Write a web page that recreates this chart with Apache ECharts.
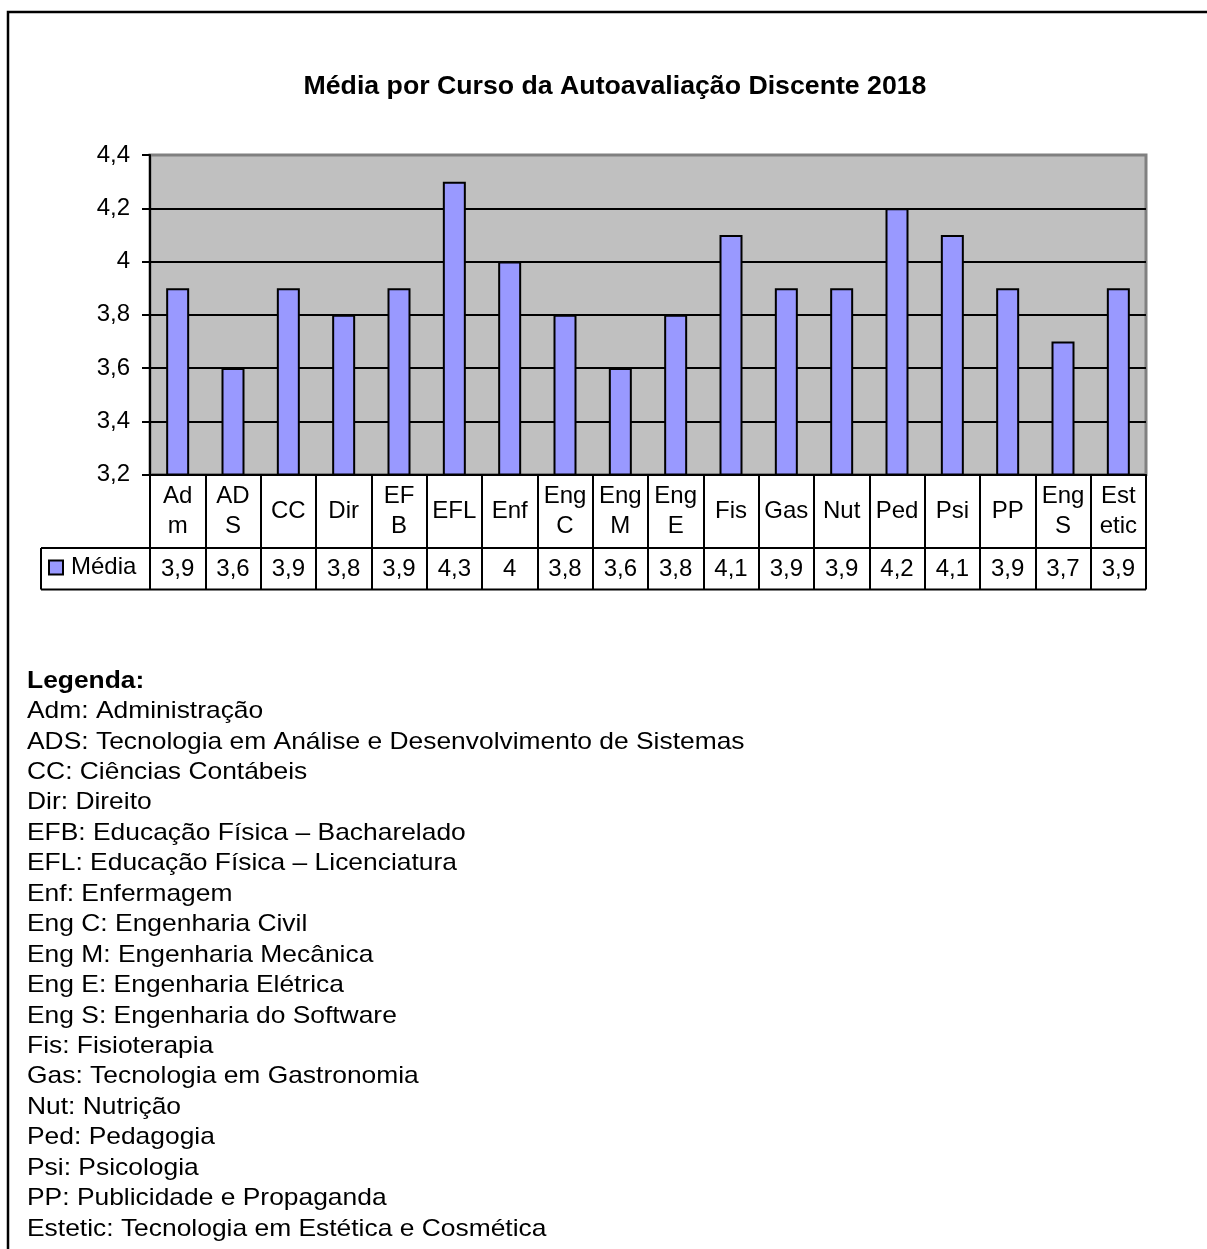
<!DOCTYPE html>
<html>
<head>
<meta charset="utf-8">
<script src="https://cdn.jsdelivr.net/npm/echarts@6/dist/echarts.min.js"></script>
<style>
  html, body { margin: 0; padding: 0; background: #ffffff; }
  #chart { width: 1207px; height: 1249px; }
</style>
</head>
<body>
<div id="chart"></div>
<script>
// Course abbreviations and their average self-evaluation score
const categories = ['Adm', 'ADS', 'CC', 'Dir', 'EFB', 'EFL', 'Enf', 'Eng C', 'Eng M', 'Eng E',
  'Fis', 'Gas', 'Nut', 'Ped', 'Psi', 'PP', 'Eng S', 'Estetic'];
const categoryLabels = ['Ad\nm', 'AD\nS', 'CC', 'Dir', 'EF\nB', 'EFL', 'Enf', 'Eng\nC', 'Eng\nM', 'Eng\nE',
  'Fis', 'Gas', 'Nut', 'Ped', 'Psi', 'PP', 'Eng\nS', 'Est\netic'];
const media = [3.9, 3.6, 3.9, 3.8, 3.9, 4.3, 4.0, 3.8, 3.6, 3.8, 4.1, 3.9, 3.9, 4.2, 4.1, 3.9, 3.7, 3.9];
const seriesName = 'Média';
const yMin = 3.2, yMax = 4.4, yStep = 0.2;

const titleText = 'Média por Curso da Autoavaliação Discente 2018';
const legendHeading = 'Legenda:';
const legendLines = [
  'Adm: Administração',
  'ADS: Tecnologia em Análise e Desenvolvimento de Sistemas',
  'CC: Ciências Contábeis',
  'Dir: Direito',
  'EFB: Educação Física – Bacharelado',
  'EFL: Educação Física – Licenciatura',
  'Enf: Enfermagem',
  'Eng C: Engenharia Civil',
  'Eng M: Engenharia Mecânica',
  'Eng E: Engenharia Elétrica',
  'Eng S: Engenharia do Software',
  'Fis: Fisioterapia',
  'Gas: Tecnologia em Gastronomia',
  'Nut: Nutrição',
  'Ped: Pedagogia',
  'Psi: Psicologia',
  'PP: Publicidade e Propaganda',
  'Estetic: Tecnologia em Estética e Cosmética'
];

const FONT = '"Liberation Sans", Arial, sans-serif';
const fmt = v => String(Math.round(v * 10) / 10).replace('.', ',');

// plot / table layout
const plotLeft = 150, plotRight = 1146, plotTop = 155, plotBottom = 474.5;
const rowSplit = 548, tableBottom = 589.5, tableLeft = 41;

const chart = echarts.init(document.getElementById('chart'), null, { renderer: 'canvas' });

// key text block below the chart (slightly widened letterforms)
const legendX = 27, legendY0 = 681, legendStep = 30.45, legendScaleX = 1.1;
const legendChildren = [{
  type: 'text', x: 0, y: legendY0,
  style: { text: legendHeading, fontFamily: FONT, fontSize: 24, fontWeight: 'bold', fill: '#000', verticalAlign: 'middle' }
}].concat(legendLines.map((t, i) => ({
  type: 'text', x: 0, y: legendY0 + legendStep * (i + 1),
  style: { text: t, fontFamily: FONT, fontSize: 24, fill: '#000', verticalAlign: 'middle' }
})));

const option = {
  animation: false,
  backgroundColor: '#ffffff',
  title: {
    text: titleText,
    left: 610, top: 68, textAlign: 'center',
    textStyle: { fontFamily: FONT, fontSize: 26.7, fontWeight: 'bold', color: '#000' }
  },
  legend: {
    data: [seriesName],
    left: 48, top: 555.5, padding: 0,
    icon: 'rect', itemWidth: 14, itemHeight: 14,
    textStyle: { fontFamily: FONT, fontSize: 24, color: '#000', padding: [0, 0, 0, 3], lineHeight: 24 }
  },
  grid: {
    left: plotLeft, top: plotTop, right: 1207 - plotRight, bottom: 1249 - plotBottom,
    show: true, backgroundColor: '#c0c0c0', borderColor: '#808080', borderWidth: 3,
    containLabel: false
  },
  xAxis: [{
    type: 'category', data: categories, position: 'bottom',
    axisLine: { show: true, lineStyle: { color: '#000', width: 2 } },
    axisTick: { show: true, interval: 0, length: tableBottom - plotBottom, lineStyle: { color: '#000', width: 2 } },
    axisLabel: {
      interval: 0, margin: 36.5, verticalAlign: 'middle',
      fontFamily: FONT, fontSize: 24, lineHeight: 30, color: '#000', align: 'center',
      formatter: (v, i) => categoryLabels[i]
    },
    splitLine: { show: false }
  }, {
    type: 'category', data: categories, position: 'bottom',
    axisLine: { show: false }, axisTick: { show: false },
    axisLabel: {
      interval: 0, margin: 94.5, verticalAlign: 'middle',
      fontFamily: FONT, fontSize: 24, color: '#000',
      formatter: (v, i) => fmt(media[i])
    },
    splitLine: { show: false }
  }],
  yAxis: {
    type: 'value', min: yMin, max: yMax, interval: yStep,
    axisLine: { show: true, lineStyle: { color: '#000', width: 2 } },
    axisTick: { show: true, length: 8, lineStyle: { color: '#000', width: 2 } },
    axisLabel: { margin: 20, fontFamily: FONT, fontSize: 24, color: '#000', formatter: v => fmt(v) },
    splitLine: { show: true, showMinLine: false, showMaxLine: false, lineStyle: { color: '#000', width: 2 } }
  },
  series: [{
    name: seriesName, type: 'bar', xAxisIndex: 0, data: media, barWidth: 23,
    itemStyle: { color: '#9999ff', borderColor: '#000', borderWidth: 2 }
  }],
  graphic: [
    // page frame
    { type: 'rect', shape: { x: 8, y: 12, width: 1300, height: 1300 }, style: { fill: 'none', stroke: '#000', lineWidth: 2.5 }, silent: true },
    // data table rules
    { type: 'line', shape: { x1: tableLeft, y1: rowSplit, x2: plotRight, y2: rowSplit }, style: { stroke: '#000', lineWidth: 2 } },
    { type: 'line', shape: { x1: tableLeft, y1: tableBottom, x2: plotRight, y2: tableBottom }, style: { stroke: '#000', lineWidth: 2 } },
    { type: 'line', shape: { x1: tableLeft, y1: rowSplit, x2: tableLeft, y2: tableBottom }, style: { stroke: '#000', lineWidth: 2 } },
    { type: 'group', x: legendX, y: 0, scaleX: legendScaleX, children: legendChildren }
  ]
};

chart.setOption(option);
</script>
</body>
</html>
